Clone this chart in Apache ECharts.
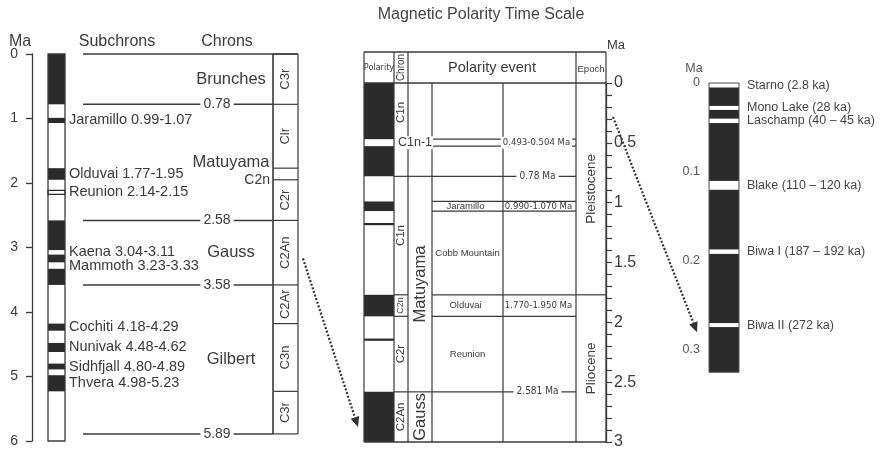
<!DOCTYPE html>
<html>
<head>
<meta charset="utf-8">
<title>Magnetic Polarity Time Scale</title>
<script src="https://cdn.jsdelivr.net/npm/echarts@6.0.0/dist/echarts.min.js"></script>
<style>
  html, body { margin: 0; padding: 0; background: #fff; }
  #chart { width: 880px; height: 453px; }
</style>
</head>
<body>
<div id="chart"></div>
<script>
// ---------- Geomagnetic polarity time scale, 0–6 Ma ----------
const gptsNormal = [[0, 0.78], [0.99, 1.07], [1.77, 1.95], [2.14, 2.15], [2.58, 3.04], [3.11, 3.23],
                    [3.33, 3.58], [4.18, 4.29], [4.48, 4.62], [4.80, 4.89], [4.98, 5.23]];
const gptsMax = 6;
const subchronNames = ['Jaramillo', 'Olduvai', 'Reunion', 'Kaena', 'Mammoth', 'Cochiti', 'Nunivak', 'Sidhfjall', 'Thvera'];
const subchronStart = [0.99, 1.77, 2.14, 3.04, 3.23, 4.18, 4.48, 4.80, 4.98];
const subchronEnd   = [1.07, 1.95, 2.15, 3.11, 3.33, 4.29, 4.62, 4.89, 5.23];
const chronNames  = ['Brunches', 'Matuyama', 'Gauss', 'Gilbert'];
const chronBounds = [0, 0.78, 2.58, 3.58, 5.89];
const chronCodes      = ['C3r', 'Clr', 'C2n', 'C2r', 'C2An', 'C2Ar', 'C3n', 'C3r'];
const chronCodeBounds = [0, 0.78, 1.77, 1.95, 2.58, 3.58, 4.18, 5.23, 5.89];

// ---------- Detail of the last 3 Ma ----------
const detailNormal = [[0, 0.78], [0.99, 1.07], [1.173, 1.185], [1.77, 1.95], [2.14, 2.15], [2.581, 3.0]];
const detailMax = 3;
const detailSubName  = 'C1n-1';
const detailSubRange = [0.493, 0.504];
const detailChronCodes  = ['C1n', 'C1n', 'C2n', 'C2r', 'C2An'];
const detailChronBounds = [0, 0.78, 1.77, 1.95, 2.581, 3.0];
const detailEraNames  = ['Matuyama', 'Gauss'];
const detailEraBounds = [0.78, 2.581, 3.0];
const detailDated = [0.78, 2.581];
const detailEventNames = ['Jaramillo', 'Olduvai'];
const detailEventStart = [0.99, 1.77];
const detailEventEnd   = [1.07, 1.95];
const detailNoteNames = ['Cobb Mountain', 'Reunion'];
const detailNoteSpans = [[1.07, 1.77], [1.95, 2.581]];
const epochNames  = ['Pleistocene', 'Pliocene'];
const epochBounds = [0, 1.77, 3.0];

// ---------- Excursions within the Brunhes chron (ka) ----------
const excursionNames = ['Starno', 'Mono Lake', 'Laschamp', 'Blake', 'Biwa I', 'Biwa II'];
const excursionStart = [2.8, 28, 40, 110, 187, 272];
const excursionEnd   = [2.8, 28, 45, 120, 192, 272];
const brunhesShown = 0.325; // Ma, lower end of the column

// ---------- styling & layout ----------
const INK = '#3a3a3a';
const BAND = '#2b2b2b';
const TXT = '#3a3a3a';
const SANS = 'Arial, "Liberation Sans", Helvetica, sans-serif';
const NARROW = '"Liberation Sans Narrow", "Arial Narrow", "DejaVu Sans Condensed", sans-serif';
const ROT = Math.PI / 2;

const LP = { axis: 32, right: 298, pol0: 48, pol1: 65, subX: 69, line0: 83, ageX: 217, nameX: 231, col0: 273, col1: 298 };
const MP = { left: 364, pol: 394, chron: 408, era: 432, mid: 503, ev: 576, right: 606, head: 31 };
const RP = { x0: 709, x1: 739, labX: 747 };

function seg(a, b, w, color) {
  return { type: 'line', z2: 2, shape: { x1: a[0], y1: a[1], x2: b[0], y2: b[1] },
           style: { stroke: color || INK, lineWidth: w || 1.2 } };
}
function txt(s, p, o) {
  o = o || {};
  const st = { text: s, x: 0, y: 0, fill: o.color || TXT, fontSize: o.size || 13,
               fontFamily: o.family || SANS, align: o.align || 'center', verticalAlign: 'middle' };
  if (o.bg) { st.backgroundColor = o.bg; st.padding = o.pad || [0, 2]; }
  return { type: 'text', x: p[0], y: p[1], rotation: o.rot || 0, z2: 5, style: st };
}
function layer(idx, data, render, z) {
  return { type: 'custom', coordinateSystem: 'cartesian2d', xAxisIndex: idx, yAxisIndex: idx,
           data: data, renderItem: render, clip: false, silent: true, z: z || 2, animation: false };
}
const pairs = b => b.slice(0, -1).map((v, i) => [v, b[i + 1]]);

const series = [];

// ===== Left panel =====
series.push(layer(0, gptsNormal, (p, api) => {
  const a = api.coord([LP.pol0, api.value(0)]), b = api.coord([LP.pol1, api.value(1)]);
  const h = b[1] - a[1];
  if (h < 3) {
    const cy = (a[1] + b[1]) / 2;
    return { type: 'rect', shape: { x: a[0], y: cy - 2, width: b[0] - a[0], height: 4 },
             style: { fill: '#fff', stroke: BAND, lineWidth: 1.3 } };
  }
  return { type: 'rect', shape: { x: a[0], y: a[1], width: b[0] - a[0], height: h }, style: { fill: BAND } };
}, 2));

series.push(layer(0, [[0, gptsMax]], (p, api) => {
  const a = api.coord([LP.pol0, api.value(0)]), b = api.coord([LP.pol1, api.value(1)]);
  return { type: 'rect', shape: { x: a[0], y: a[1], width: b[0] - a[0], height: b[1] - a[1] },
           style: { fill: 'none', stroke: INK, lineWidth: 1.3 } };
}, 3));

// chron boundaries with their ages
series.push(layer(0, chronBounds.map(v => [v, v]), (p, api) => {
  const v = api.value(0), i = p.dataIndex;
  const a = api.coord([LP.line0, v]), b = api.coord([i === 0 ? LP.col1 : LP.col0, v]);
  const ch = [seg(a, b, 1.5)];
  if (i > 0) ch.push(txt(v.toFixed(2), api.coord([LP.ageX, v]), { size: 14, bg: '#fff', pad: [0, 3] }));
  return { type: 'group', children: ch };
}, 3));

series.push(layer(0, pairs(chronBounds), (p, api) => {
  const m = (api.value(0) + api.value(1)) / 2;
  return txt(chronNames[p.dataIndex], api.coord([LP.nameX, m]), { size: 16.5 });
}, 4));

series.push(layer(0, subchronStart.map((s, i) => [s, subchronEnd[i]]), (p, api) => {
  const s = api.value(0), e = api.value(1);
  const label = subchronNames[p.dataIndex] + ' ' + s.toFixed(2) + '-' + e.toFixed(2);
  return txt(label, api.coord([LP.subX, (s + e) / 2]), { size: 14.5, align: 'left' });
}, 4));

// polarity chron column
series.push(layer(0, pairs(chronCodeBounds), (p, api) => {
  const s = api.value(0), e = api.value(1), i = p.dataIndex;
  const tl = api.coord([LP.col0, s]), tr = api.coord([LP.col1, s]);
  const bl = api.coord([LP.col0, e]), br = api.coord([LP.col1, e]);
  const ch = [seg(tl, tr, 1.2), seg(tl, bl, 1.6), seg(tr, br, 1.2)];
  if (i === chronCodes.length - 1) ch.push(seg(bl, br, 1.2));
  const h = bl[1] - tl[1];
  if (h >= 20) {
    ch.push(txt(chronCodes[i], api.coord([(LP.col0 + LP.col1) / 2, (s + e) / 2]), { size: 13, rot: ROT }));
  } else {
    ch.push(txt(chronCodes[i], api.coord([LP.col0 - 3, e]), { size: 14, align: 'right' }));
  }
  return { type: 'group', children: ch };
}, 3));

// ===== Middle panel =====
series.push(layer(1, detailNormal, (p, api) => {
  const a = api.coord([MP.left, api.value(0)]), b = api.coord([MP.pol, api.value(1)]);
  let y = a[1], h = b[1] - a[1];
  if (h < 2.2) { y = (a[1] + b[1]) / 2 - 1.1; h = 2.2; }
  return { type: 'rect', shape: { x: a[0], y: y, width: b[0] - a[0], height: h }, style: { fill: BAND } };
}, 2));

// C1n-1 subchron: reversed band, its lines and labels
series.push(layer(1, [detailSubRange], (p, api) => {
  const s = api.value(0), e = api.value(1);
  const a = api.coord([MP.left, s]), b = api.coord([MP.pol, e]);
  const cy = (a[1] + b[1]) / 2, h = Math.max(7, b[1] - a[1]);
  const y1 = cy - h / 2, y2 = cy + h / 2;
  const x3 = api.coord([MP.era, s])[0], x5 = api.coord([MP.ev, s])[0];
  return { type: 'group', children: [
    { type: 'rect', shape: { x: a[0], y: y1, width: b[0] - a[0], height: h }, style: { fill: '#fff' } },
    seg([x3, y1], [x5, y1], 1.1), seg([x3, y2], [x5, y2], 1.1),
    txt(detailSubName, api.coord([MP.pol + 3, (s + e) / 2]), { size: 12.5, align: 'left', bg: '#fff', pad: [0, 1] }),
    txt(s.toFixed(3) + '-' + e.toFixed(3) + ' Ma', api.coord([(MP.mid + MP.ev) / 2 - 3, (s + e) / 2]),
        { size: 9.5, family: NARROW, bg: '#fff', pad: [1, 2] })
  ] };
}, 3));

// table frame and header
series.push(layer(1, [[0, detailMax]], (p, api) => {
  const v0 = api.value(0), v1 = api.value(1);
  const top = api.coord([MP.left, v0]), bot = api.coord([MP.left, v1]);
  const ht = top[1] - MP.head;
  const X = x => api.coord([x, v0])[0];
  const ch = [];
  ch.push(seg([X(MP.left), ht], [X(MP.right), ht], 1.3));
  ch.push(seg([X(MP.left), top[1]], [X(MP.right), top[1]], 1.3));
  ch.push(seg([X(MP.left), bot[1]], [X(MP.right), bot[1]], 1.3));
  [MP.left, MP.pol, MP.chron, MP.ev, MP.right].forEach(x => ch.push(seg([X(x), ht], [X(x), bot[1]], 1.2)));
  [MP.era, MP.mid].forEach(x => ch.push(seg([X(x), top[1]], [X(x), bot[1]], 1.2)));
  const hy = top[1] - MP.head / 2;
  ch.push(txt('Polarity', [X((MP.left + MP.pol) / 2), hy], { size: 9, family: NARROW }));
  ch.push(txt('Chron', [X((MP.pol + MP.chron) / 2), hy], { size: 10, rot: ROT }));
  ch.push(txt('Polarity event', [X((MP.chron + MP.ev) / 2), hy], { size: 14.5 }));
  ch.push(txt('Epoch', [X((MP.ev + MP.right) / 2), hy + 2], { size: 9.5 }));
  return { type: 'group', children: ch };
}, 3));

// chron column of the detail table
series.push(layer(1, pairs(detailChronBounds), (p, api) => {
  const s = api.value(0), e = api.value(1), i = p.dataIndex;
  const ch = [];
  if (i > 0) ch.push(seg(api.coord([MP.pol, s]), api.coord([MP.chron, s]), 1.2));
  let lo = s, hi = e;
  if (detailSubRange[0] > s && detailSubRange[1] < e) hi = detailSubRange[0];
  const h = api.coord([0, e])[1] - api.coord([0, s])[1];
  ch.push(txt(detailChronCodes[i], api.coord([(MP.pol + MP.chron) / 2, (lo + hi) / 2]),
              { size: h < 26 ? 9 : 11.5, rot: ROT }));
  return { type: 'group', children: ch };
}, 4));

// Matuyama / Gauss column
series.push(layer(1, pairs(detailEraBounds), (p, api) => {
  const s = api.value(0), e = api.value(1);
  return { type: 'group', children: [
    seg(api.coord([MP.chron, s]), api.coord([MP.era, s]), 1.2),
    txt(detailEraNames[p.dataIndex], api.coord([(MP.chron + MP.era) / 2, (s + e) / 2]), { size: 16.5, rot: ROT })
  ] };
}, 4));

// dated reversals
series.push(layer(1, detailDated.map(v => [v, v]), (p, api) => {
  const v = api.value(0);
  return { type: 'group', children: [
    seg(api.coord([MP.era, v]), api.coord([MP.ev, v]), 1.2),
    txt(v + ' Ma', api.coord([(MP.mid + MP.ev) / 2 - 2, v]), { size: 10, family: NARROW, bg: '#fff', pad: [0, 3] })
  ] };
}, 4));

// named events with their ranges
series.push(layer(1, detailEventStart.map((s, i) => [s, detailEventEnd[i]]), (p, api) => {
  const s = api.value(0), e = api.value(1), m = (s + e) / 2;
  return { type: 'group', children: [
    seg(api.coord([MP.era, s]), api.coord([MP.ev, s]), 1.2),
    seg(api.coord([MP.era, e]), api.coord([MP.ev, e]), 1.2),
    txt(detailEventNames[p.dataIndex], api.coord([(MP.era + MP.mid) / 2 - 2, m]), { size: 9.5 }),
    txt(s.toFixed(3) + '-' + e.toFixed(3) + ' Ma', api.coord([(MP.mid + MP.ev) / 2 - 1, m]), { size: 9.5, family: NARROW })
  ] };
}, 4));

series.push(layer(1, detailNoteSpans, (p, api) => {
  const m = (api.value(0) + api.value(1)) / 2;
  return txt(detailNoteNames[p.dataIndex], api.coord([(MP.era + MP.mid) / 2, m]), { size: 9.5 });
}, 4));

// epochs
series.push(layer(1, pairs(epochBounds), (p, api) => {
  const s = api.value(0), e = api.value(1);
  const ch = [];
  if (p.dataIndex > 0) ch.push(seg(api.coord([MP.ev, s]), api.coord([MP.right, s]), 1.2));
  ch.push(txt(epochNames[p.dataIndex], api.coord([(MP.ev + MP.right) / 2, (s + e) / 2]), { size: 13.5, rot: ROT }));
  return { type: 'group', children: ch };
}, 4));

// ===== Right panel =====
series.push(layer(2, [[0, brunhesShown]], (p, api) => {
  const a = api.coord([RP.x0, api.value(0)]), b = api.coord([RP.x1, api.value(1)]);
  return { type: 'rect', shape: { x: a[0], y: a[1], width: b[0] - a[0], height: b[1] - a[1] },
           style: { fill: BAND, stroke: '#555', lineWidth: 1 } };
}, 2));

series.push(layer(2, excursionStart.map((s, i) => [s / 1000, excursionEnd[i] / 1000]), (p, api) => {
  const s = api.value(0), e = api.value(1), i = p.dataIndex;
  const a = api.coord([RP.x0, s]), b = api.coord([RP.x1, e]);
  const cy = (a[1] + b[1]) / 2, h = Math.max(4, b[1] - a[1]);
  const ks = excursionStart[i], ke = excursionEnd[i];
  const label = excursionNames[i] + ' (' + (ks === ke ? ks : ks + ' – ' + ke) + ' ka)';
  return { type: 'group', children: [
    { type: 'rect', shape: { x: a[0] + 0.5, y: cy - h / 2, width: b[0] - a[0] - 1, height: h }, style: { fill: '#fff' } },
    txt(label, api.coord([RP.labX, (s + e) / 2]), { size: 12.5, align: 'left', color: '#444' })
  ] };
}, 3));

const chart = echarts.init(document.getElementById('chart'), null, { renderer: 'canvas' });

chart.setOption({
  backgroundColor: '#fff',
  animation: false,
  grid: [
    { left: LP.axis, top: 54, width: LP.right - LP.axis, height: 387, outerBoundsMode: 'none' },
    { left: MP.left, top: 83, width: MP.right - MP.left, height: 359, outerBoundsMode: 'none' },
    { left: RP.x0, top: 83, width: RP.x1 - RP.x0, height: 267, outerBoundsMode: 'none' }
  ],
  xAxis: [
    { gridIndex: 0, type: 'value', min: LP.axis, max: LP.right, show: false },
    { gridIndex: 1, type: 'value', min: MP.left, max: MP.right, show: false },
    { gridIndex: 2, type: 'value', min: RP.x0, max: RP.x1, show: false }
  ],
  yAxis: [
    { gridIndex: 0, type: 'value', inverse: true, min: 0, max: gptsMax, interval: 1, position: 'left',
      axisLine: { show: true, lineStyle: { color: INK, width: 1.3 } },
      axisTick: { show: true, length: 6, lineStyle: { color: INK, width: 1.3 } },
      axisLabel: { fontSize: 14, color: TXT, margin: 14, fontFamily: SANS },
      splitLine: { show: false } },
    { gridIndex: 1, type: 'value', inverse: true, min: 0, max: detailMax, interval: 0.5, position: 'right',
      axisLine: { show: true, lineStyle: { color: INK, width: 1.3 } },
      axisTick: { show: true, length: 6, lineStyle: { color: INK, width: 1.2 } },
      minorTick: { show: true, splitNumber: 5, length: 6, lineStyle: { color: INK, width: 1.2 } },
      axisLabel: { fontSize: 16, color: TXT, margin: 8, fontFamily: SANS },
      splitLine: { show: false } },
    { gridIndex: 2, type: 'value', inverse: true, min: 0, max: 0.3, interval: 0.1, position: 'left',
      axisLine: { show: false }, axisTick: { show: false },
      axisLabel: { fontSize: 12.5, color: '#555', margin: 9, fontFamily: SANS },
      splitLine: { show: false } }
  ],
  series: series
});

// headings and connecting arrows
function arrow(from, to) {
  const dx = to[0] - from[0], dy = to[1] - from[1], len = Math.hypot(dx, dy);
  const ux = dx / len, uy = dy / len, hl = 10, hw = 4.5;
  const base = [to[0] - ux * hl, to[1] - uy * hl];
  return [
    { type: 'line', silent: true, shape: { x1: from[0], y1: from[1], x2: base[0], y2: base[1] },
      style: { stroke: '#333', lineWidth: 2.2, lineDash: [2, 1.8] } },
    { type: 'polygon', silent: true,
      shape: { points: [to, [base[0] - uy * hw, base[1] + ux * hw], [base[0] + uy * hw, base[1] - ux * hw]] },
      style: { fill: '#333' } }
  ];
}
const a1 = chart.convertToPixel({ gridIndex: 0 }, [303, 3.17]);
const a2 = chart.convertToPixel({ gridIndex: 1 }, [358, 2.874]);
const b1 = chart.convertToPixel({ gridIndex: 1 }, [613, 0.284]);
const b2 = chart.convertToPixel({ gridIndex: 2 }, [697, 0.28]);

const head = (t, x, y, size, color) => ({ type: 'text', silent: true, x: x, y: y,
  style: { text: t, fontSize: size, fontFamily: SANS, fill: color || TXT, align: 'center', verticalAlign: 'middle' } });

chart.setOption({
  graphic: [
    head('Magnetic Polarity Time Scale', 481, 15, 16, '#444'),
    head('Ma', 20, 42, 16),
    head('Subchrons', 117, 42, 16),
    head('Chrons', 227, 42, 16),
    head('Ma', 616, 45, 13),
    head('Ma', 694, 69, 12.5, '#555')
  ].concat(arrow(a1, a2), arrow(b1, b2))
});
</script>
</body>
</html>
